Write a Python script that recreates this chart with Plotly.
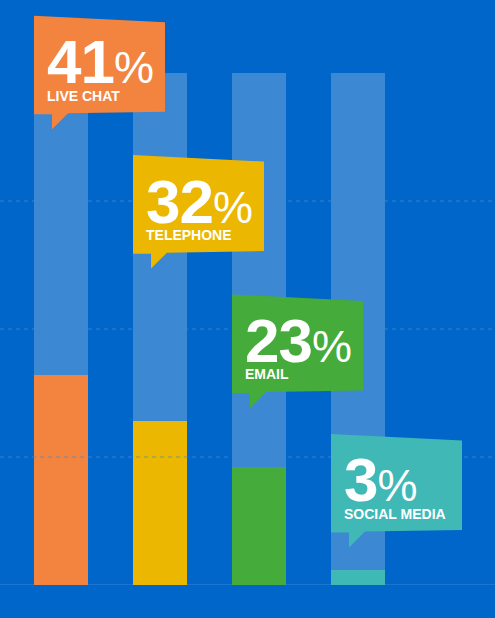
import plotly.graph_objects as go

# ---- data ----
categories = ["LIVE CHAT", "TELEPHONE", "EMAIL", "SOCIAL MEDIA"]
values = [41, 32, 23, 3]
track_total = [100, 100, 100, 100]
grid_values = [25, 50, 75]

# ---- styles ----
BG = "#0066C9"
TRACK = "#3D88D3"
COLORS = ["#F2843F", "#EBB700", "#45AB3A", "#3FB8B6"]
FONT = "Liberation Sans, Arial, Helvetica, sans-serif"

W, H = 495, 618
PX_PER_CAT = 99.0
BAR_W = 54.0 / PX_PER_CAT
x_pos = list(range(len(categories)))
y_max = 100 * 585 / 512

fig = go.Figure()
fig.add_trace(go.Bar(x=x_pos, y=track_total, width=BAR_W, marker=dict(color=TRACK, line=dict(width=0)),
                     hoverinfo="skip"))
fig.add_trace(go.Bar(x=x_pos, y=values, width=BAR_W, marker=dict(color=COLORS, line=dict(width=0)),
                     hovertext=categories))

shapes = []
# baseline
shapes.append(dict(type="line", xref="paper", x0=0, x1=1, yref="y", y0=0, y1=0,
                   line=dict(color="#1E74CF", width=2), layer="below"))
# dotted grid lines drawn over bars
for g in grid_values:
    shapes.append(dict(type="line", xref="paper", x0=0, x1=1, yref="y", y0=g, y1=g,
                       line=dict(color="rgba(70,140,210,0.75)", width=1, dash="4px,4px"), layer="above"))

annotations = []
callout_path = "M0,0 L131,-6.5 L131,-96 L34,-97.6 L18,-113.5 L18,-98.6 L0,-98.6 Z"
for i, (cat, v, c) in enumerate(zip(categories, values, COLORS)):
    left = x_pos[i] - BAR_W / 2
    top = (585 - (15.7 + 139.4 * i)) / 5.12
    shapes.append(dict(type="path", xref="x", yref="y", xsizemode="pixel", ysizemode="pixel",
                       xanchor=left, yanchor=top, path=callout_path,
                       fillcolor=c, line=dict(width=0), layer="above"))
    annotations.append(dict(
        x=left, y=top, xref="x", yref="y", xanchor="left", yanchor="top",
        xshift=13.0, yshift=-11.5, showarrow=False, borderpad=0, borderwidth=0,
        text=f"<span style='letter-spacing:-1px'>{v}</span><span style='font-size:45px;font-weight:normal'>%</span>",
        font=dict(family=FONT, size=62, color="white", weight="bold")))
    annotations.append(dict(
        x=left, y=top, xref="x", yref="y", xanchor="left", yanchor="top",
        xshift=13.0, yshift=-71.8, showarrow=False, borderpad=0, borderwidth=0,
        text=cat, font=dict(family=FONT, size=14, color="white", weight="bold")))

fig.update_layout(
    width=W, height=H, barmode="overlay", showlegend=False,
    paper_bgcolor=BG, plot_bgcolor=BG,
    margin=dict(l=0, r=0, t=0, b=33, pad=0),
    xaxis=dict(range=[-61 / PX_PER_CAT, (W - 61) / PX_PER_CAT], visible=False, fixedrange=True),
    yaxis=dict(range=[0, y_max], visible=False, fixedrange=True),
    shapes=shapes, annotations=annotations, bargap=0,
)

fig.write_html("out.html", config={"displayModeBar": False},
               post_script="document.body.style.margin='0px';document.body.style.overflow='hidden';")
